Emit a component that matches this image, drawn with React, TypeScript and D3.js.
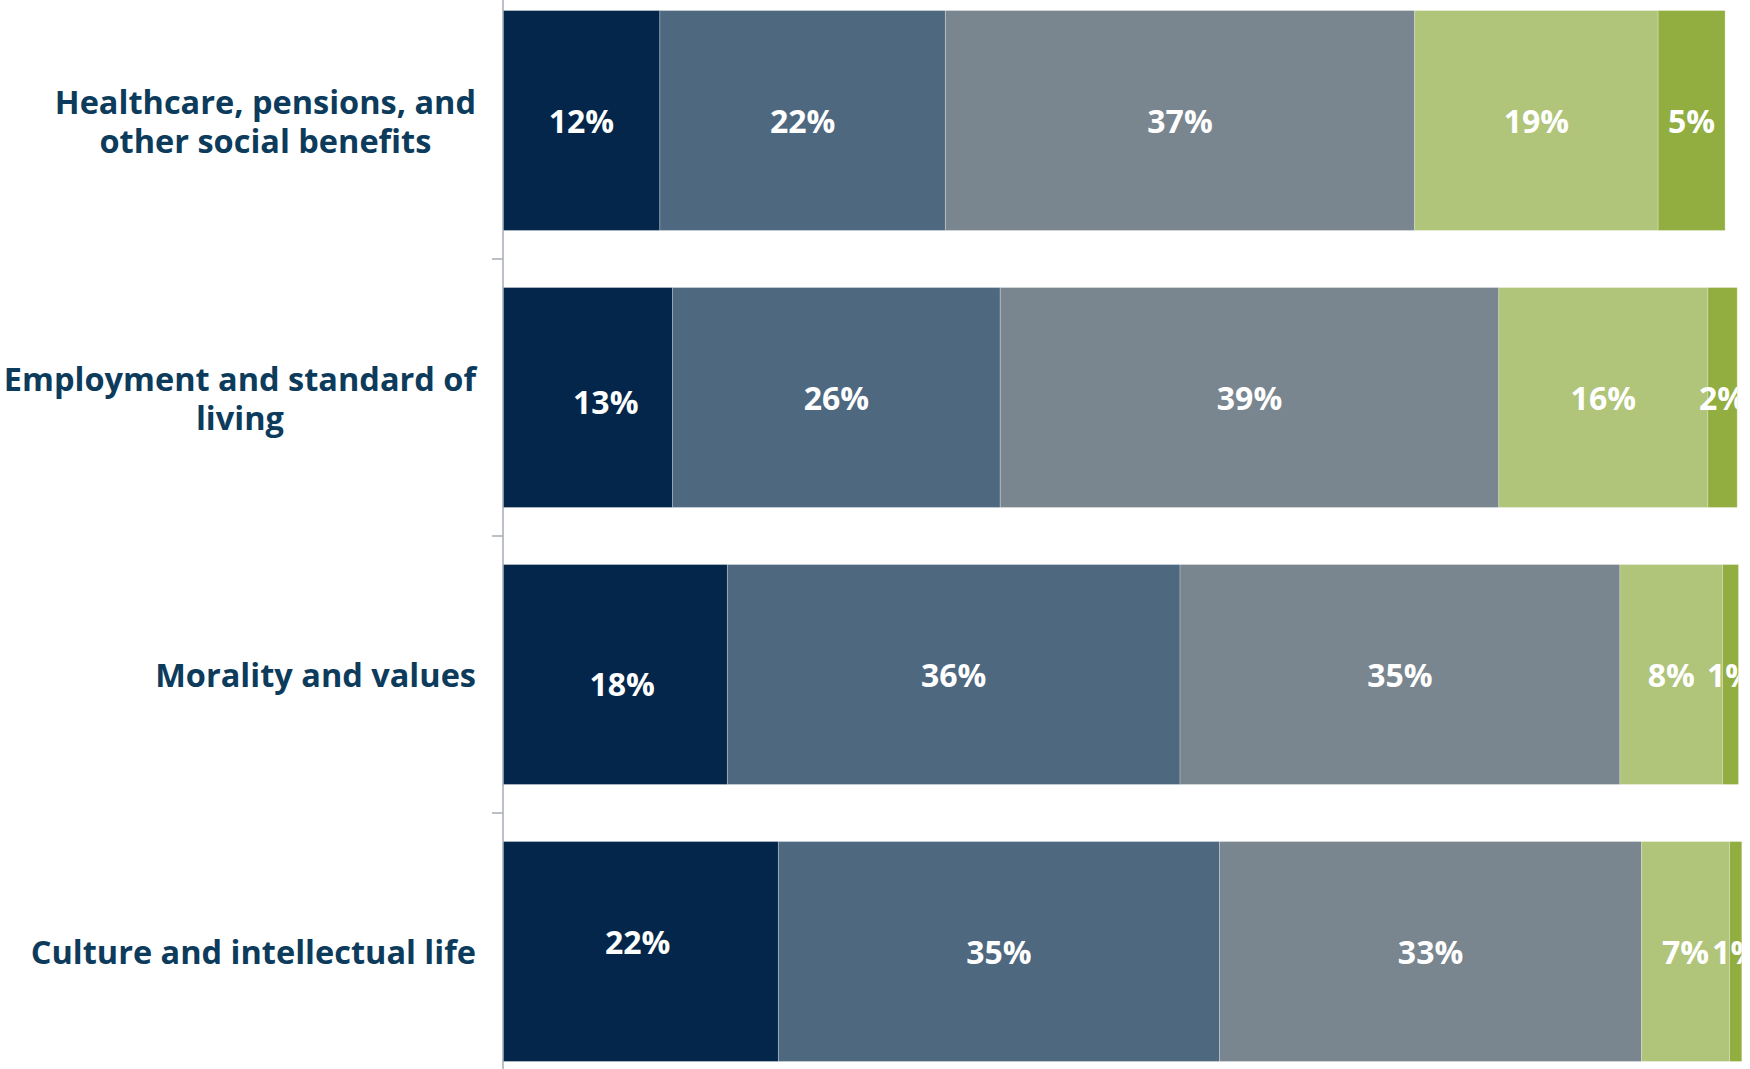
import React, { useEffect, useRef } from "react";
import * as d3 from "d3";

const categories = [
  ["Healthcare, pensions, and", "other social benefits"],
  ["Employment and standard of", "living"],
  ["Morality and values"],
  ["Culture and intellectual life"],
];
const s1 = [12.3, 13.3, 17.6, 21.6];
const s2 = [22.4, 25.7, 35.5, 34.6];
const s3 = [36.8, 39.1, 34.5, 33.1];
const s4 = [19.1, 16.4, 8.05, 6.9];
const s5 = [5.25, 2.3, 1.25, 0.96];
const series = [s1, s2, s3, s4, s5];
const colors = ["#03264a", "#4e6880", "#79868f", "#b0c57a", "#92ae40"];

// hand-placed label nudges (px), keyed "row-series"
const nudgeX: { [key: string]: number } = { "1-0": 18, "2-0": 7, "3-0": -3 };
const nudgeY: { [key: string]: number } = { "1-0": 4, "2-0": 9, "3-0": -10 };

const W = 1750;
const H = 1069;
const X0 = 503;

const x = d3.scaleLinear().domain([0, 100]).range([X0, X0 + 1275]);
const y = d3
  .scaleBand()
  .domain(categories.map((_, i) => String(i)))
  .range([-18, 1090])
  .paddingInner(0.206)
  .paddingOuter(0.103);

type Seg = { row: number; k: number; a: number; b: number; v: number };

const rows: Seg[][] = categories.map((_, i) => {
  let acc = 0;
  return series.map((s, k) => {
    const a = acc;
    acc += s[i];
    return { row: i, k: k, a: a, b: acc, v: s[i] };
  });
});

function CatLabel(props: { lines: string[]; cy: number }) {
  const gRef = useRef<SVGGElement>(null);
  useEffect(() => {
    const g = gRef.current;
    if (!g) return;
    const texts = Array.from(g.querySelectorAll("text")) as SVGTextElement[];
    let maxW = 0;
    texts.forEach((t) => {
      maxW = Math.max(maxW, t.getComputedTextLength());
    });
    const cx = 476 - maxW / 2;
    texts.forEach((t) => t.setAttribute("x", String(cx)));
  }, []);
  const n = props.lines.length;
  return (
    <g ref={gRef}>
      {props.lines.map((ln, j) => (
        <text
          key={j}
          x={300}
          y={props.cy + (j - (n - 1) / 2) * 39}
          dominantBaseline="central"
          textAnchor="middle"
          fill="#0d3b5c"
          fontFamily="'Open Sans', sans-serif"
          fontWeight={700}
          fontSize={32.5}
        >
          {ln}
        </text>
      ))}
    </g>
  );
}

export default function App() {
  const step = y.step();
  const bw = y.bandwidth();
  const tickYs = d3.range(categories.length + 1).map((i) => (y("0") as number) - (step - bw) / 2 + step * i);
  return (
    <svg width={W} height={H} style={{ position: "absolute", left: 0, top: 0, background: "#ffffff" }}>
      <defs>
        {rows.map((segs, i) => (
          <clipPath id={"clip" + i} key={i}>
            <rect
              x={X0}
              y={(y(String(i)) as number) - 20}
              width={x(segs[segs.length - 1].b) - X0}
              height={bw + 40}
            />
          </clipPath>
        ))}
      </defs>
      {rows.map((segs, i) => (
        <g key={"r" + i}>
          {segs.map((s) => (
            <rect
              key={s.k}
              x={x(s.a)}
              y={y(String(i)) as number}
              width={x(s.b) - x(s.a)}
              height={bw}
              fill={colors[s.k]}
              stroke="#ffffff"
              strokeOpacity={0.25}
              strokeWidth={1}
            />
          ))}
        </g>
      ))}
      {rows.map((segs, i) => (
        <g key={"l" + i} clipPath={"url(#clip" + i + ")"}>
          {segs.map((s) => {
            const key = i + "-" + s.k;
            return (
              <text
                key={s.k}
                x={(x(s.a) + x(s.b)) / 2 + (nudgeX[key] || 0)}
                y={(y(String(i)) as number) + bw / 2 + (nudgeY[key] || 0)}
                textAnchor="middle"
                dominantBaseline="central"
                fill="#ffffff"
                fontFamily="'Open Sans', sans-serif"
                fontWeight={700}
                fontSize={32}
              >
                {Math.round(s.v) + "%"}
              </text>
            );
          })}
        </g>
      ))}
      <line x1={X0} x2={X0} y1={0} y2={H} stroke="#a6acb4" strokeWidth={1.5} />
      {tickYs.map((ty, i) => (
        <line key={"t" + i} x1={X0 - 11} x2={X0} y1={ty} y2={ty} stroke="#a6acb4" strokeWidth={1.5} />
      ))}
      {categories.map((lines, i) => (
        <CatLabel key={"c" + i} lines={lines} cy={(y(String(i)) as number) + bw / 2} />
      ))}
    </svg>
  );
}
